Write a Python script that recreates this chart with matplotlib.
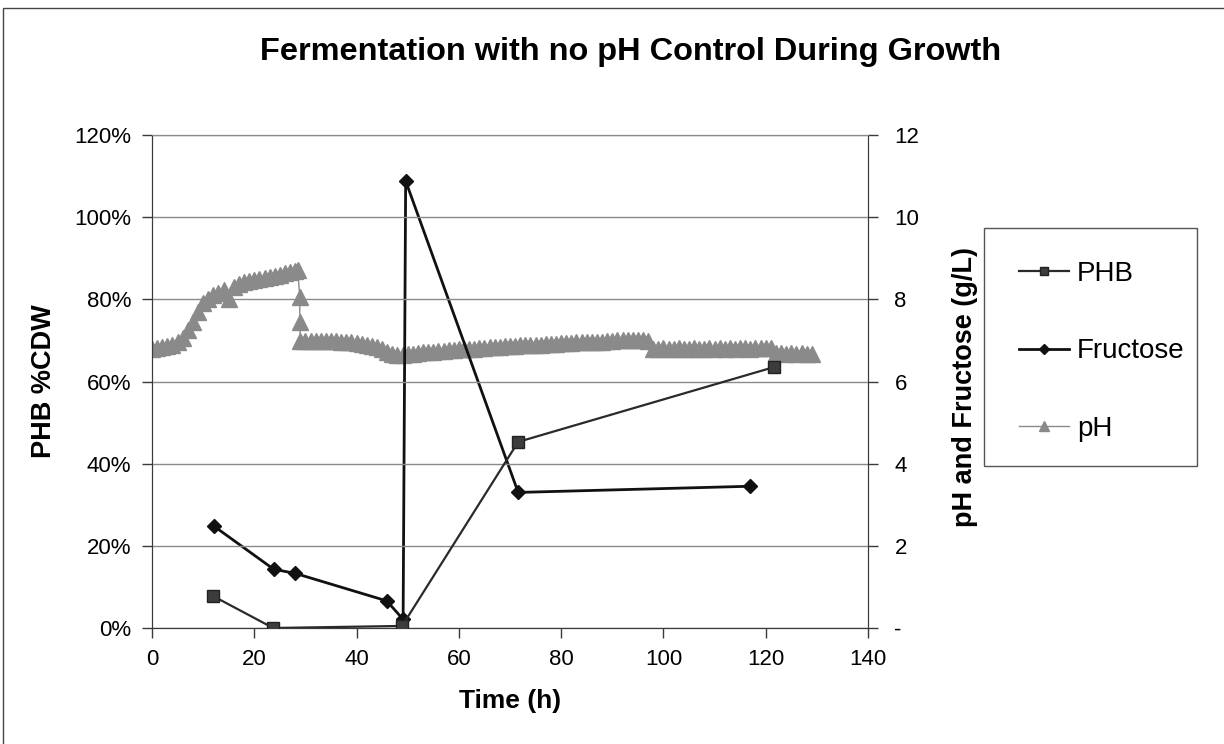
import matplotlib
matplotlib.use("Agg")
import matplotlib.pyplot as plt
from matplotlib.patches import Rectangle
from matplotlib.ticker import PercentFormatter, FixedLocator, FixedFormatter

plt.rcParams['font.family'] = ['Liberation Sans', 'DejaVu Sans']

# PHB (% of cell dry weight, as fraction)
phb_time = [11.9, 23.7, 48.9, 71.6, 121.6]
phb_frac = [0.078, 0.0, 0.005, 0.453, 0.635]

# Fructose (g/L)
fru_time = [12.1, 23.8, 28.0, 45.9, 49.1, 49.6, 71.6, 116.9]
fru_gl = [2.48, 1.43, 1.33, 0.66, 0.21, 10.88, 3.30, 3.45]

# pH (online probe)
ph_time = [0, 1, 2, 3, 4, 5, 6, 7, 8, 9, 10, 11, 12, 13, 14, 15, 16, 17, 18, 19,
           20, 21, 22, 23, 24, 25, 26, 27, 28, 28.5, 28.9, 28.9, 29.0,
           30, 31, 32, 33, 34, 35, 36, 37, 38, 39, 40, 41, 42, 43, 44, 45, 46, 47, 48, 49,
           50, 51, 52, 53, 54, 55, 56, 57, 58, 59, 60, 61, 62, 63, 64, 65, 66, 67, 68, 69,
           70, 71, 72, 73, 74, 75, 76, 77, 78, 79, 80, 81, 82, 83, 84, 85, 86, 87, 88, 89,
           90, 91, 92, 93, 94, 95, 96, 97, 98, 99, 100, 101, 102, 103, 104, 105, 106, 107,
           108, 109, 110, 111, 112, 113, 114, 115, 116, 117, 118, 119, 120, 121,
           122, 123, 124, 125, 126, 127, 128, 129]
ph_val = [6.80, 6.82, 6.84, 6.86, 6.90, 6.95, 7.05, 7.25, 7.45, 7.70, 7.90, 8.02, 8.10, 8.16,
          8.22, 8.02, 8.30, 8.38, 8.42, 8.45, 8.48, 8.50, 8.52, 8.55, 8.58, 8.60, 8.63, 8.66,
          8.70, 8.72, 8.05, 7.45, 6.98,
          6.98, 6.98, 6.99, 6.99, 6.99, 6.98, 6.98, 6.97, 6.96, 6.95, 6.94, 6.92, 6.90, 6.87,
          6.83, 6.78, 6.73, 6.68, 6.65, 6.64,
          6.66, 6.68, 6.70, 6.71, 6.72, 6.73, 6.74, 6.75, 6.76, 6.77, 6.78, 6.79, 6.80, 6.80,
          6.81, 6.82, 6.83, 6.84, 6.85, 6.86,
          6.87, 6.87, 6.88, 6.88, 6.89, 6.90, 6.90, 6.91, 6.92, 6.92, 6.93, 6.93, 6.94, 6.95,
          6.95, 6.96, 6.96, 6.97, 6.97, 6.98,
          6.98, 7.00, 7.01, 7.01, 7.01, 7.00, 7.00, 6.98, 6.80, 6.80, 6.81, 6.80, 6.80, 6.81,
          6.80, 6.80, 6.81, 6.80,
          6.80, 6.81, 6.80, 6.81, 6.80, 6.81, 6.80, 6.81, 6.81, 6.80, 6.81, 6.82, 6.81, 6.82,
          6.70, 6.69, 6.68, 6.70, 6.68, 6.69, 6.68, 6.67]

x_ticks = [0, 20, 40, 60, 80, 100, 120, 140]
left_ticks = [0, 0.2, 0.4, 0.6, 0.8, 1.0, 1.2]
right_ticks = [0, 2, 4, 6, 8, 10, 12]
right_labels = ['-', '2', '4', '6', '8', '10', '12']

W, H = 1224, 744
fig = plt.figure(figsize=(W / 100, H / 100), dpi=100)

ax = fig.add_axes([152 / W, 1 - 628 / H, (868 - 152) / W, (628 - 135) / H])
ax2 = ax.twinx()

axis_col = '#3a3a3a'
grid_col = '#8a8a8a'

# pH band first (behind everything)
ax2.plot(ph_time, ph_val, color='#8a8a8a', lw=1, marker='^', ms=11,
         mfc='#8a8a8a', mec='#8a8a8a', zorder=2, label='pH')
ax2.plot(fru_time, fru_gl, color='#111111', lw=2, marker='D', ms=7,
         mfc='#111111', mec='#111111', zorder=4, label='Fructose')
ax.plot(phb_time, phb_frac, color='#2a2a2a', lw=1.6, marker='s', ms=8,
        mfc='#3c3c3c', mec='#222222', zorder=4, label='PHB')

ax.set_zorder(ax2.get_zorder() + 1)
ax.patch.set_visible(False)

ax.set_xlim(0, 140)
ax.set_ylim(0, 1.2)
ax2.set_ylim(0, 12)
ax.set_xticks(x_ticks)
ax.set_yticks(left_ticks)
ax.yaxis.set_major_formatter(PercentFormatter(1.0, decimals=0))
ax2.yaxis.set_major_locator(FixedLocator(right_ticks))
ax2.yaxis.set_major_formatter(FixedFormatter(right_labels))

ax.grid(True, axis='y', color=grid_col, lw=1)
for a in (ax, ax2):
    a.spines['top'].set_color(grid_col)
    a.spines['left'].set_color(axis_col)
    a.spines['right'].set_color(axis_col)
    a.spines['bottom'].set_color(axis_col)
    a.tick_params(colors=axis_col, labelcolor='black', labelsize=16, length=7, width=1)
ax.tick_params(axis='y', pad=8)
ax.tick_params(axis='x', pad=8)
ax2.tick_params(axis='y', pad=12)

ax.set_xlabel('Time (h)', fontsize=19, fontweight='bold', labelpad=14)
ax.set_ylabel('PHB %CDW', fontsize=19.5, fontweight='bold', labelpad=12)
ax2.set_ylabel('pH and Fructose (g/L)', fontsize=19.5, fontweight='bold')
ax2.yaxis.set_label_coords(1.117, 0.489)

fig.text(631 / W, 1 - 52 / H, 'Fermentation with no pH Control During Growth',
         ha='center', va='center', fontsize=23.4, fontweight='bold')

# legend box
fig.patches.append(Rectangle((984 / W, 1 - 466 / H), (1197 - 984) / W, (466 - 228) / H,
                             transform=fig.transFigure, fill=False, ec='#555555', lw=1))
h1, l1 = ax.get_legend_handles_labels()
h2, l2 = ax2.get_legend_handles_labels()
handles = h1 + [h2[1], h2[0]]
labels = l1 + [l2[1], l2[0]]
leg = fig.legend(handles, labels, loc='upper left',
                 bbox_to_anchor=(1005 / W, 1 - 247 / H), frameon=False,
                 fontsize=20, handlelength=1.8, handletextpad=0.3,
                 labelspacing=1.85, markerscale=0.7, borderpad=0)

# outer chart border
fig.patches.append(Rectangle((3 / W, -0.01), 1.0, 1.01 - 8 / H + 0.0,
                             transform=fig.transFigure, fill=False, ec='#444444', lw=1))

fig.savefig('out.png', dpi=100)
